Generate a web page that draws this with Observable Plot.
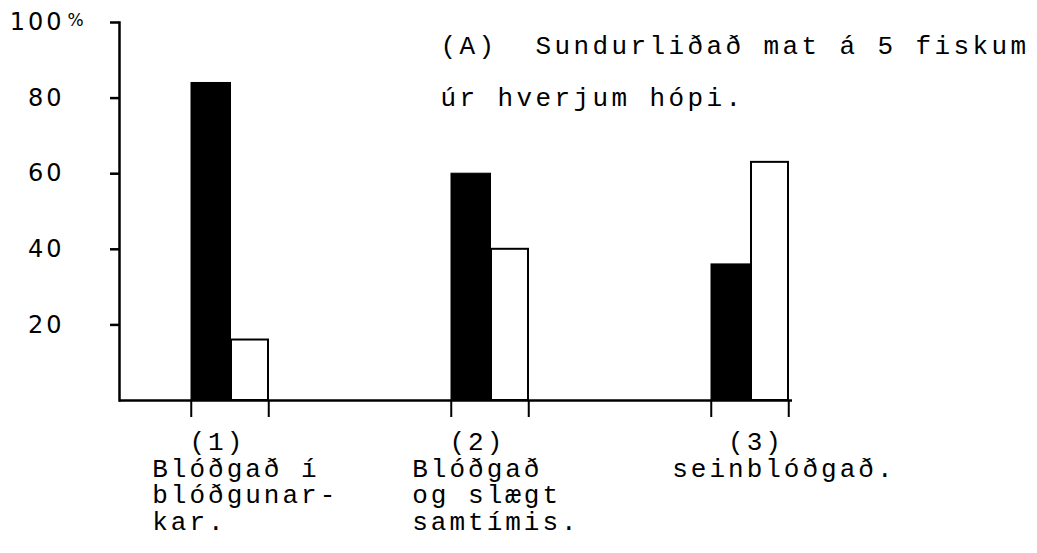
<!DOCTYPE html>
<html>
<head>
<meta charset="utf-8">
<script src="https://cdn.jsdelivr.net/npm/d3@7"></script>
<script src="https://cdn.jsdelivr.net/npm/@observablehq/plot@0.6"></script>
<style>
  html, body { margin: 0; padding: 0; background: white; }
  g[font-family="Liberation Mono"] { letter-spacing: 3px; }
  g.title-text, g[aria-label="text"].title-text { letter-spacing: 3.4px; }
  g[font-family="DejaVu Sans"] { letter-spacing: 3px; }
</style>
</head>
<body>
<div id="chart"></div>
<script>
// ---- data ----
const groups = ["(1)", "(2)", "(3)"];
const groupLabels = [
  "\u00A0\u00A0(1)\nBlóðgað í\nblóðgunar-\nkar.",
  "\u00A0\u00A0(2)\nBlóðgað\nog slægt\nsamtímis.",
  "\u00A0\u00A0\u00A0(3)\nseinblóðgað."
];
const blackValues = [84, 60, 36];
const whiteValues = [16, 40, 63];
const yTicks = [20, 40, 60, 80, 100];
const yTickLabels = ["20", "40", "60", "80", "100"];
const titleText = "(A)\u00A0\u00A0Sundurliðað mat á 5 fiskum\núr hverjum hópi.";

const table = groups.map((g, i) => ({
  group: g, black: blackValues[i], white: whiteValues[i], label: groupLabels[i]
}));

const bw = 77.5;
const mono = "Liberation Mono";
const sans = "DejaVu Sans";

const chart = Plot.plot({
  width: 1037,
  height: 553,
  marginTop: 22,
  marginBottom: 153,
  marginLeft: 119,
  marginRight: 245,
  style: { background: "white", color: "black", overflow: "visible" },
  x: { type: "band", domain: groups, range: [190, 789.5], paddingInner: 0.703, paddingOuter: 0, axis: null },
  y: { domain: [0, 100], axis: null },
  marks: [
    Plot.barY(table, { x: "group", y: "white", fill: "white", stroke: "black", strokeWidth: 2, insetLeft: 40 }),
    Plot.barY(table, { x: "group", y: "black", fill: "black", stroke: "black", strokeWidth: 1, insetRight: 37.5 }),
    Plot.ruleY([0], { stroke: "black", strokeWidth: 2.5 }),
    Plot.frame({ anchor: "left", stroke: "black", strokeWidth: 2.5 }),
    Plot.ruleX(table, { x: "group", y1: 0, y2: 0, dx: -bw / 2, insetBottom: -17, stroke: "black", strokeWidth: 2 }),
    Plot.ruleX(table, { x: "group", y1: 0, y2: 0, dx: bw / 2, insetBottom: -17, stroke: "black", strokeWidth: 2 }),
    Plot.axisY(yTicks, {
      tickSize: 9, tickPadding: 46, strokeWidth: 2.5,
      tickFormat: (d) => yTickLabels[yTicks.indexOf(d)],
      fontSize: 24, fontFamily: sans, label: null
    }),
    Plot.text([100], { y: (d) => d, frameAnchor: "left", text: () => "%", textAnchor: "start", dx: -52, dy: -2, fontSize: 17, fontFamily: sans }),
    Plot.text([titleText], { frameAnchor: "top-left", text: (d) => d, textAnchor: "start", lineAnchor: "top", dx: 321, dy: -5, lineHeight: 2.0, fontSize: 26, fontFamily: mono, className: "title-text" }),
    Plot.text(table, { x: "group", y: () => 0, text: "label", textAnchor: "start", lineAnchor: "top", dx: -bw / 2 - 39, dy: 31, lineHeight: 1.02, fontSize: 26, fontFamily: mono })
  ]
});
document.getElementById("chart").appendChild(chart);
</script>
</body>
</html>
